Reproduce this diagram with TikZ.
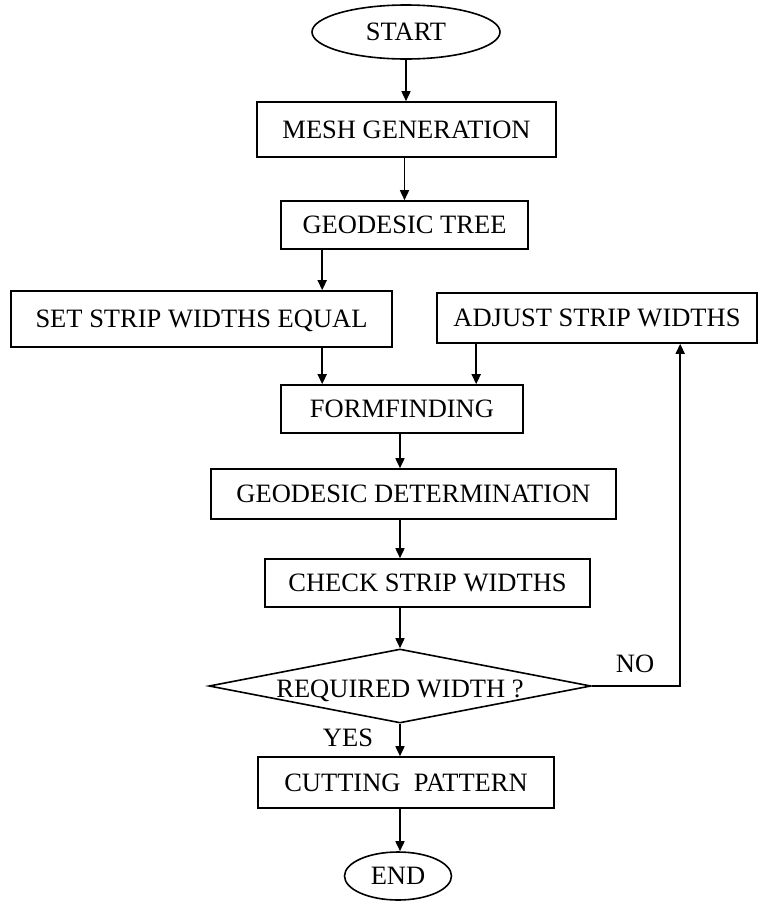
\documentclass[tikz,border=0pt]{standalone}
\usepackage{fontspec}
\setmainfont{Liberation Serif}
\usetikzlibrary{arrows.meta,shapes.geometric}
\begin{document}
\begin{tikzpicture}[x=1pt,y=-1pt,
  every node/.style={font=\fontsize{26.5}{30}\selectfont, inner sep=0pt, text height=17.5pt, text depth=0pt},
  box/.style={draw, line width=1.6pt, rectangle, anchor=center},
  oval/.style={draw, line width=1.6pt, ellipse},
  arr/.style={line width=1.6pt, -{Triangle[length=10pt,width=9pt]}},
  lbl/.style={}]
\useasboundingbox (0,0) rectangle (759,903);
\node[oval, minimum width=188pt, minimum height=54pt] (start) at (406,32) {START};
\node[box, minimum width=299pt, minimum height=55pt] (mesh) at (406.5,129.5) {MESH GENERATION};
\node[box, minimum width=247pt, minimum height=48pt] (tree) at (404.5,225) {GEODESIC TREE};
\node[box, minimum width=381pt, minimum height=56pt] (set) at (201.5,319) {SET STRIP WIDTHS EQUAL};
\node[box, minimum width=320pt, minimum height=50pt] (adjust) at (597,318) {ADJUST STRIP WIDTHS};
\node[box, minimum width=242pt, minimum height=48pt] (form) at (402,409) {FORMFINDING};
\node[box, minimum width=405pt, minimum height=50pt] (det) at (413.5,494) {GEODESIC DETERMINATION};
\node[box, minimum width=325pt, minimum height=48pt] (check) at (427.5,583) {CHECK STRIP WIDTHS};
\node[draw, line width=1.6pt, diamond, minimum width=382pt, minimum height=74pt, text height=0pt] (dec) at (400,686)
  {\raisebox{-11pt}[0pt][0pt]{\makebox[0pt]{REQUIRED WIDTH ?}}};
\node[box, minimum width=296pt, minimum height=51pt] (cut) at (406,782.5) {CUTTING\ \ PATTERN};
\node[oval, minimum width=107pt, minimum height=48pt] (end) at (398,876) {END};
\node[lbl] (no) at (635,664) {NO};
\node[lbl] (yes) at (348,738) {YES};
\draw[arr] (start.south) -- (start.south |- mesh.north);
\draw[arr] (tree.north |- mesh.south) -- (tree.north);
\draw[arr] ([xshift=42pt]tree.south west) -- ([xshift=42pt]tree.south west |- set.north);
\draw[arr] ([xshift=42pt]form.north west |- set.south) -- ([xshift=42pt]form.north west);
\draw[arr] ([xshift=40pt]adjust.south west) -- ([xshift=40pt]adjust.south west |- form.north);
\draw[arr] (dec.north |- form.south) -- (dec.north |- det.north);
\draw[arr] (dec.north |- det.south) -- (dec.north |- check.north);
\draw[arr] (dec.north |- check.south) -- (dec.north);
\draw[arr] (dec.south) -- (dec.south |- cut.north);
\draw[arr] (dec.south |- cut.south) -- (dec.south |- end.north);
\draw[arr] (dec.east) -| ([xshift=244pt]adjust.south west);
\end{tikzpicture}
\end{document}
